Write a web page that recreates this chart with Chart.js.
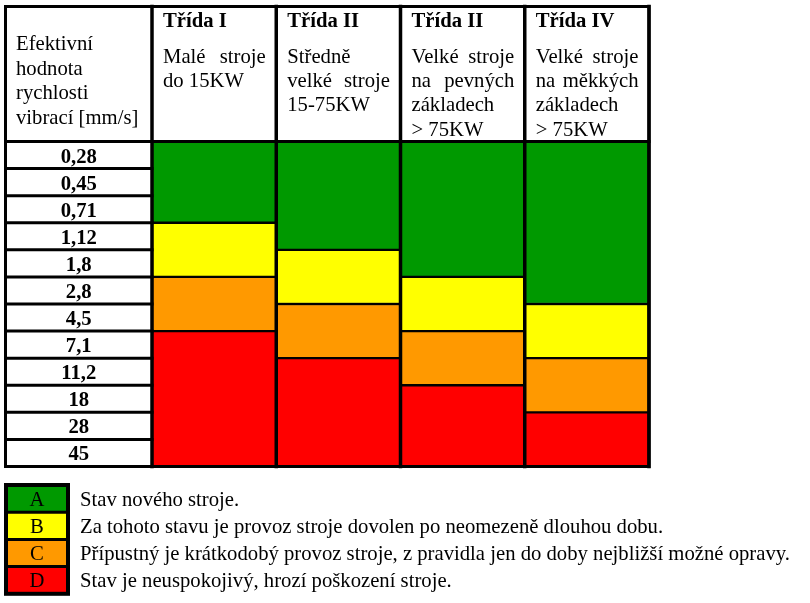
<!DOCTYPE html>
<html>
<head>
<meta charset="utf-8">
<script src="https://cdn.jsdelivr.net/npm/chart.js@4/dist/chart.umd.min.js"></script>
<style>
  html, body { margin: 0; padding: 0; background: #fff; }
  #wrap { width: 810px; height: 603px; }
</style>
</head>
<body>
<div id="wrap"><canvas id="c" width="810" height="603"></canvas></div>
<script>
// ---- data ----
const velocityLabels = ['0,28','0,45','0,71','1,12','1,8','2,8','4,5','7,1','11,2','18','28','45'];
const axisTitleLines = ['Efektivní','hodnota','rychlosti','vibrací [mm/s]'];
const classTitles = ['Třída I','Třída II','Třída II','Třída IV'];
const classDescriptions = [
  ['Malé stroje','do 15KW'],
  ['Středně','velké stroje','15-75KW'],
  ['Velké stroje','na pevných','základech','> 75KW'],
  ['Velké stroje','na měkkých','základech','> 75KW']
];
// number of velocity rows covered by each zone, per class
const zoneA = [3, 4, 5, 6];
const zoneB = [2, 2, 2, 2];
const zoneC = [2, 2, 2, 2];
const zoneD = [5, 4, 3, 2];
const zoneLetters = ['A','B','C','D'];
const zoneColors = ['#009900','#FFFF00','#FF9900','#FF0000'];
const zoneTexts = [
  'Stav nového stroje.',
  'Za tohoto stavu je provoz stroje dovolen po neomezeně dlouhou dobu.',
  'Přípustný je krátkodobý provoz stroje, z pravidla jen do doby nejbližší možné opravy.',
  'Stav je neuspokojivý, hrozí poškození stroje.'
];

const FONT = '"Liberation Serif", "Times New Roman", serif';
const FS = '20.7px ';
const zoneSeries = [zoneA, zoneB, zoneC, zoneD];

const tablePlugin = {
  id: 'tablePlugin',
  beforeDraw(chart) {
    const ctx = chart.ctx;
    ctx.save();
    ctx.fillStyle = '#fff';
    ctx.fillRect(0, 0, chart.width, chart.height);
    ctx.restore();
  },
  afterDraw(chart) {
    const ctx = chart.ctx;
    const ys = chart.scales.y;
    const meta = chart.getDatasetMeta(0);
    const top = ys.getPixelForValue(0);
    const bottom = ys.getPixelForValue(velocityLabels.length);
    const tableTop = 6.5;
    const tableLeft = 5.5;
    const colEdges = [];
    meta.data.forEach((bar, i) => {
      const half = bar.width / 2;
      if (i === 0) colEdges.push(bar.x - half);
      colEdges.push(bar.x + half);
    });
    const firstCol = colEdges[0];
    const right = colEdges[colEdges.length - 1];

    ctx.save();
    ctx.strokeStyle = '#000';
    ctx.fillStyle = '#000';
    ctx.lineCap = 'square';

    // left column row cells
    ctx.lineWidth = 3;
    for (let k = 0; k <= velocityLabels.length; k++) {
      const y = ys.getPixelForValue(k);
      ctx.beginPath(); ctx.moveTo(tableLeft, y); ctx.lineTo(firstCol, y); ctx.stroke();
    }
    ctx.font = 'bold ' + FS + FONT;
    ctx.textAlign = 'center';
    ctx.textBaseline = 'alphabetic';
    const labX = (tableLeft + firstCol) / 2;
    velocityLabels.forEach((lab, k) => {
      const y0 = ys.getPixelForValue(k);
      const y1 = ys.getPixelForValue(k + 1);
      ctx.fillText(lab, labX, (y0 + y1) / 2 + 7.5);
    });

    // outer frame + header lines
    ctx.lineWidth = 3;
    ctx.beginPath();
    ctx.rect(tableLeft, tableTop, right - tableLeft, bottom - tableTop);
    ctx.stroke();
    ctx.beginPath(); ctx.moveTo(tableLeft, top); ctx.lineTo(right, top); ctx.stroke();
    ctx.lineWidth = 3.5;
    colEdges.forEach(x => {
      ctx.beginPath(); ctx.moveTo(x, tableTop); ctx.lineTo(x, bottom); ctx.stroke();
    });

    // header left cell
    ctx.font = FS + FONT;
    ctx.textAlign = 'left';
    axisTitleLines.forEach((t, i) => ctx.fillText(t, tableLeft + 10.5, 50 + i * 24.6));

    // class headers
    for (let c = 0; c < classTitles.length; c++) {
      const x0 = colEdges[c] + 11;
      const x1 = colEdges[c + 1] - 10.5;
      ctx.font = 'bold ' + FS + FONT;
      ctx.textAlign = 'left';
      ctx.fillText(classTitles[c], x0, 27);
      ctx.font = FS + FONT;
      const lines = classDescriptions[c];
      lines.forEach((line, i) => {
        const y = 63 + i * 24.2;
        const words = line.split(' ');
        if (i < lines.length - 1 && words.length > 1) {
          const wsum = words.reduce((s, w) => s + ctx.measureText(w).width, 0);
          const gap = Math.max((x1 - x0 - wsum) / (words.length - 1), ctx.measureText(' ').width);
          let x = x0;
          words.forEach(w => { ctx.fillText(w, x, y); x += ctx.measureText(w).width + gap; });
        } else {
          ctx.fillText(line, x0, y);
        }
      });
    }

    // zone legend
    const lgTop = 485, pitch = 27.2, bx0 = 6, bx1 = 68;
    zoneLetters.forEach((L, i) => {
      const y0 = lgTop + i * pitch;
      ctx.fillStyle = zoneColors[i];
      ctx.fillRect(bx0, y0, bx1 - bx0, pitch);
    });
    ctx.strokeStyle = '#000';
    ctx.lineWidth = 3;
    for (let i = 1; i < zoneLetters.length; i++) {
      const y = lgTop + i * pitch;
      ctx.beginPath(); ctx.moveTo(bx0, y); ctx.lineTo(bx1, y); ctx.stroke();
    }
    ctx.lineWidth = 4;
    ctx.strokeRect(bx0, lgTop, bx1 - bx0, pitch * zoneLetters.length);
    ctx.fillStyle = '#000';
    ctx.font = FS + FONT;
    zoneLetters.forEach((L, i) => {
      const cy = lgTop + (i + 0.5) * pitch;
      ctx.textAlign = 'center';
      ctx.fillText(L, (bx0 + bx1) / 2, cy + 7);
      ctx.textAlign = 'left';
      ctx.fillText(zoneTexts[i], 80, cy + 7);
    });
    ctx.restore();
  }
};

new Chart(document.getElementById('c'), {
  type: 'bar',
  data: {
    labels: classTitles,
    datasets: zoneSeries.map((vals, i) => ({
      label: zoneLetters[i],
      data: vals,
      backgroundColor: zoneColors[i],
      borderColor: '#000',
      borderWidth: 1.5,
      borderSkipped: false,
      barPercentage: 1,
      categoryPercentage: 1
    }))
  },
  options: {
    responsive: false,
    animation: false,
    events: [],
    layout: { padding: { left: 152, right: 161, top: 141.5, bottom: 136.5 } },
    scales: {
      x: { stacked: true, display: false },
      y: { stacked: true, display: false, min: 0, max: velocityLabels.length, reverse: true }
    },
    plugins: { legend: { display: false }, tooltip: { enabled: false }, title: { display: false } }
  },
  plugins: [tablePlugin]
});
</script>
</body>
</html>
